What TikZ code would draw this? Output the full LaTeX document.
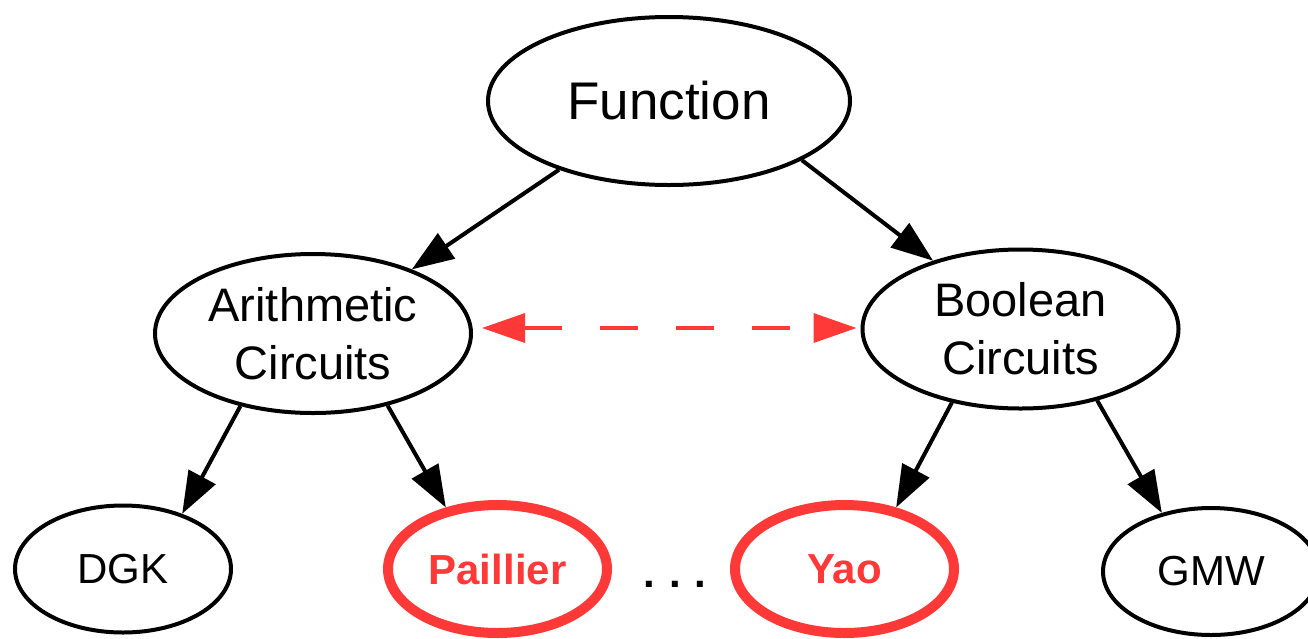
\documentclass[tikz,border=0pt]{standalone}
\usepackage{fontspec}
\setmainfont{Liberation Sans}
\usetikzlibrary{shapes.geometric,arrows.meta}
\definecolor{hl}{RGB}{255,56,56}
\begin{document}
\begin{tikzpicture}[x=1pt,y=-1pt,
  oval/.style={ellipse, draw=black, line width=4pt, inner sep=0pt, align=center},
  hlov/.style={ellipse, draw=hl, line width=10pt, inner sep=0pt, text=hl,
    minimum width=219pt, minimum height=128pt, font=\fontsize{42}{50}\selectfont\bfseries},
  leaf/.style={oval, minimum width=216pt, minimum height=127pt, font=\fontsize{42}{50}\selectfont},
  mid/.style={oval, minimum width=316pt, minimum height=159pt, font=\fontsize{47}{58}\selectfont},
  conn/.style={line width=4pt, -{Triangle[length=42pt,width=30pt]}},
  reddash/.style={draw=hl, line width=3.5pt, dash pattern=on 37.5pt off 38.5pt,
    {Triangle[length=43pt,width=29pt]}-{Triangle[length=43pt,width=29pt]}}]
\useasboundingbox (0,0) rectangle (1308,638);
\node[oval, minimum width=362pt, minimum height=168pt, font=\fontsize{53}{60}\selectfont] (F) at (669,101) {Function};
\node[mid] (A) at (313,333.5) {Arithmetic\\Circuits};
\node[mid] (B) at (1020.5,329) {Boolean\\Circuits};
\node[leaf] (D) at (123,569) {DGK};
\node[hlov] (P) at (497.5,569) {Paillier};
\node[hlov] (Y) at (844.5,569) {Yao};
\node[leaf] (G) at (1211,571.5) {GMW};
\node[anchor=base, font=\fontsize{42}{50}\selectfont\bfseries] (dots) at (675,587) {.\,\,.\,\,.};
\draw[conn] (F.212) -- (A.33);
\draw[conn] (F.336) -- (B.142);
\draw[conn] (A.225) -- (D.43);
\draw[conn] (A.316) -- (P.130);
\draw[conn] (B.227) -- (Y.50);
\draw[conn] (B.317) -- (G.130);
\draw[reddash] ([xshift=9pt,yshift=5.5pt]A.east) -- ([xshift=-4pt,yshift=1pt]B.west);
\end{tikzpicture}
\end{document}
